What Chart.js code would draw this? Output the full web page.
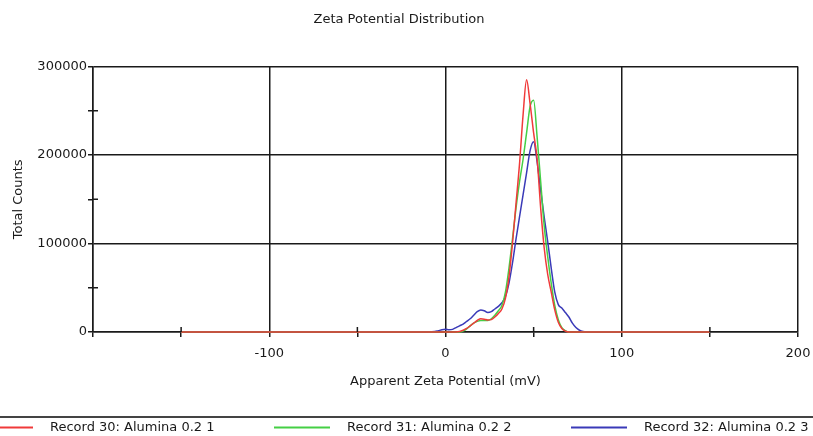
<!DOCTYPE HTML>
<html>
	<head>
		<title>Zeta Potential Distribution</title>
		<meta charset="utf-8" />
		<script src="https://cdn.jsdelivr.net/npm/chart.js@4.4.1/dist/chart.umd.min.js"></script>
		<style>
			body { margin: 0; background: #fff; }
			#wrap { width: 813px; height: 436px; }
		</style>
	</head>
	<body>

		<div id="wrap"><canvas id="myChart" width="813" height="436"></canvas></div>

		<script>

			// apparent zeta potential (mV), shared by all three records
			const zeta = [-150, -100, -50, -10, -6, -4, -2, 0, 2, 4, 6, 8, 10, 12, 14, 16, 18, 20, 22, 24, 26, 28, 30, 32, 34, 36, 38, 40, 42, 44, 46, 48, 50, 52, 54, 56, 58, 60, 62, 64, 66, 68, 70, 72, 74, 76, 78, 80, 84, 90, 100, 150];

			// total counts
			const record30 = [0, 0, 0, 0, 0, 0, 0, 0, 0, 0, 0, 500, 2000, 4000, 7000, 10000, 13000, 15000, 14500, 13500, 14000, 17000, 21000, 26000, 38000, 62000, 100000, 145000, 190000, 245000, 285000, 258000, 225000, 195000, 140000, 95000, 65000, 45000, 25000, 11000, 4000, 1000, 0, 0, 0, 0, 0, 0, 0, 0, 0, 0];
			const record31 = [0, 0, 0, 0, 0, 0, 0, 0, 0, 0, 0, 0, 1000, 3500, 7000, 10000, 12000, 13000, 13000, 13000, 15000, 19000, 24000, 30000, 45000, 72000, 105000, 140000, 170000, 195000, 225000, 255000, 262000, 220000, 170000, 120000, 85000, 55000, 30000, 14000, 5000, 1500, 0, 0, 0, 0, 0, 0, 0, 0, 0, 0];
			const record32 = [0, 0, 0, 0, 500, 1500, 2500, 3000, 2500, 3000, 5000, 7000, 9000, 12000, 15000, 19000, 23000, 25000, 24000, 22000, 23000, 26000, 29000, 33000, 40000, 55000, 78000, 105000, 130000, 155000, 180000, 205000, 215000, 192000, 160000, 130000, 102000, 72000, 45000, 31000, 27000, 22000, 17000, 10000, 5000, 2000, 500, 0, 0, 0, 0, 0];

			const seriesNames = ['Record 30: Alumina 0.2 1', 'Record 31: Alumina 0.2 2', 'Record 32: Alumina 0.2 3'];
			const seriesColors = ['#f03a3a', '#45cf45', '#3a3ab8'];

			const xTicksShown = [-100, 0, 100, 200];
			const yTicksShown = [0, 100000, 200000, 300000];

			const ink = '#1a1a1a';
			const font = { family: 'DejaVu Sans', size: 13 };

			function points(ys) {
				return zeta.map((x, i) => ({ x: x, y: ys[i] }));
			}

			function isMajor(ctx, list) {
				return ctx.tick && list.indexOf(ctx.tick.value) !== -1;
			}

			// short tick marks inside the plot for the minor steps
			const minorTicks = {
				id: 'minorTicks',
				afterDraw(chart) {
					const c = chart.ctx, a = chart.chartArea, sx = chart.scales.x, sy = chart.scales.y;
					c.save();
					c.strokeStyle = ink;
					c.lineWidth = 1.5;
					c.beginPath();
					sx.ticks.forEach(t => {
						if (t.value % 100 !== 0) {
							const px = sx.getPixelForValue(t.value);
							c.moveTo(px, a.bottom);
							c.lineTo(px, a.bottom - 5);
						}
					});
					sy.ticks.forEach(t => {
						if (t.value % 100000 !== 0) {
							const py = sy.getPixelForValue(t.value);
							c.moveTo(a.left, py);
							c.lineTo(a.left + 5, py);
						}
					});
					c.stroke();
					c.restore();
				}
			};

			// bottom legend with separator line, like the instrument software
			const bottomLegend = {
				id: 'bottomLegend',
				afterDraw(chart) {
					const c = chart.ctx;
					c.save();
					c.strokeStyle = '#444';
					c.lineWidth = 2;
					c.beginPath();
					c.moveTo(0, 417);
					c.lineTo(chart.width, 417);
					c.stroke();
					c.font = font.size + 'px ' + font.family;
					c.textBaseline = 'middle';
					c.fillStyle = ink;
					chart.data.datasets.forEach((ds, i) => {
						const x0 = -23 + i * 297;
						c.strokeStyle = ds.borderColor;
						c.lineWidth = 2;
						c.beginPath();
						c.moveTo(x0, 427.5);
						c.lineTo(x0 + 56, 427.5);
						c.stroke();
						c.fillText(ds.label, x0 + 73, 428);
					});
					c.restore();
				}
			};

			const ctx = document.getElementById('myChart').getContext('2d');
			const myChart = new Chart(ctx, {
				type: 'line',
				data: {
					datasets: [record30, record31, record32].map((ys, i) => ({
						label: seriesNames[i],
						data: points(ys),
						borderColor: seriesColors[i],
						backgroundColor: seriesColors[i],
						borderWidth: 1.5,
						pointRadius: 0,
						fill: false,
						clip: 4,
						cubicInterpolationMode: 'monotone'
					}))
				},
				options: {
					responsive: false,
					animation: false,
					layout: { padding: { left: 0, right: 15, top: 0, bottom: 44 } },
					plugins: {
						legend: { display: false },
						tooltip: { enabled: false },
						title: {
							display: true,
							text: 'Zeta Potential Distribution',
							color: ink,
							font: { family: font.family, size: 13, weight: 'normal' },
							padding: { top: 12, bottom: 39 }
						}
					},
					scales: {
						x: {
							type: 'linear',
							min: -200,
							max: 200,
							afterFit: s => { s.height = 60; s.paddingLeft = 0; s.paddingRight = 0; },
							border: { display: true, color: ink, width: 1.5 },
							grid: {
								color: c => isMajor(c, [-200].concat(xTicksShown)) ? ink : 'rgba(0,0,0,0)',
								tickColor: ink,
								lineWidth: 1.5,
								tickLength: 5
							},
							ticks: {
								stepSize: 50,
								autoSkip: false,
								maxRotation: 0,
								padding: 9,
								color: ink,
								font: font,
								callback: v => xTicksShown.indexOf(v) !== -1 ? String(v) : ''
							},
							title: {
								display: true,
								text: 'Apparent Zeta Potential (mV)',
								color: ink,
								font: font,
								padding: 3
							}
						},
						y: {
							min: 0,
							max: 300000,
							afterFit: s => { s.width = 93; s.paddingTop = 0; s.paddingBottom = 0; },
							border: { display: true, color: ink, width: 1.5 },
							grid: {
								color: c => isMajor(c, yTicksShown) ? ink : 'rgba(0,0,0,0)',
								tickColor: ink,
								lineWidth: 1.5,
								tickLength: 5
							},
							ticks: {
								stepSize: 50000,
								autoSkip: false,
								padding: 1,
								color: ink,
								font: font,
								callback: v => yTicksShown.indexOf(v) !== -1 ? String(v) : ''
							},
							title: {
								display: true,
								text: 'Total Counts',
								color: ink,
								font: font,
								padding: 11
							}
						}
					}
				},
				plugins: [minorTicks, bottomLegend]
			});

		</script>
	</body>
</html>
